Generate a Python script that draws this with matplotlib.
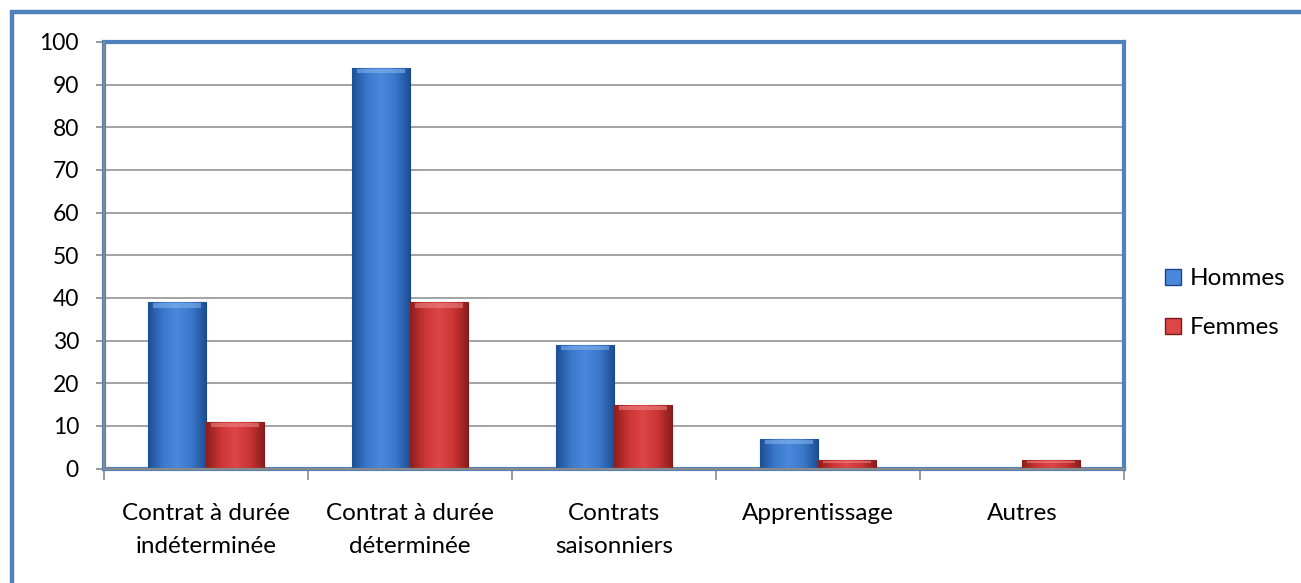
import matplotlib
matplotlib.use("Agg")
import matplotlib.pyplot as plt
from matplotlib.patches import Rectangle
from matplotlib.colors import LinearSegmentedColormap
import numpy as np

plt.rcParams['font.family'] = ['Lato', 'DejaVu Sans']

# data
categories = ["Contrat à durée\nindéterminée", "Contrat à durée\ndéterminée",
              "Contrats\nsaisonniers", "Apprentissage", "Autres"]
hommes = [39, 94, 29, 7, 0]
femmes = [11, 39, 15, 2, 2]
series_names = ["Hommes", "Femmes"]
yticks = list(range(0, 101, 10))

BORDER = "#4f81bd"
GRID = "#8a8a8a"
blue_map = LinearSegmentedColormap.from_list("b", ["#1d4f96", "#3a78cc", "#4a88dc", "#3a78cc", "#1d4f96"])
red_map = LinearSegmentedColormap.from_list("r", ["#8e1e1e", "#cc3535", "#dc4646", "#cc3535", "#8e1e1e"])

W, H = 1301, 583
fig = plt.figure(figsize=(W / 100, H / 100), dpi=100)
ax = fig.add_axes([104 / W, 1 - 468.5 / H, (1124 - 104) / W, (468.5 - 42) / H])

# outer frame of the chart (runs past right and bottom edges)
fig.patches.append(Rectangle((12 / W, -0.2), 1.2, 1.2 - 12 / H, transform=fig.transFigure,
                             fill=False, edgecolor=BORDER, linewidth=3.2, zorder=0))

x = np.arange(len(categories))
bw = 0.284
grad = np.linspace(0, 1, 64).reshape(1, -1)


def shaded_bars(xs, vals, cmap, top_col, edge):
    bars = ax.bar(xs, vals, bw, color=cmap(0.5), edgecolor=edge, linewidth=0.8, zorder=3)
    for b in bars:
        bx, by = b.get_x(), b.get_y()
        w, h = b.get_width(), b.get_height()
        if h <= 0:
            continue
        im = ax.imshow(grad, cmap=cmap, aspect="auto", extent=(bx, bx + w, by, by + h),
                       zorder=3.1, interpolation="bilinear")
        im.set_clip_path(b)
        # bevel highlight at the top
        cap = min(1.3, h * 0.35)
        ax.add_patch(Rectangle((bx + w * 0.08, by + h - cap), w * 0.84, cap * 0.8,
                               color=top_col, alpha=0.55, linewidth=0, zorder=3.2))
    return bars


bh = shaded_bars(x - bw / 2, hommes, blue_map, "#8ab8f0", "#1a4788")
bf = shaded_bars(x + bw / 2, femmes, red_map, "#f08a8a", "#7e1a1a")

ax.set_xlim(-0.5, len(categories) - 0.5)
ax.set_ylim(0, 100)
ax.set_yticks(yticks)
ax.yaxis.grid(True, color=GRID, linewidth=1.1, zorder=1)
ax.set_axisbelow(True)

ax.set_xticks(x)
ax.set_xticklabels(categories, fontsize=17.5, linespacing=1.7)
ax.set_xticks(np.arange(len(categories) + 1) - 0.5, minor=True)
ax.tick_params(axis="x", which="major", length=0, pad=25)
ax.tick_params(axis="x", which="minor", length=8, width=1.2, color=GRID, direction="out")
ax.tick_params(axis="y", length=6, width=1.2, color=GRID, pad=12, labelsize=16.5)

for s in ax.spines.values():
    s.set_color(BORDER)
    s.set_linewidth(3)
ax.axhline(0, color=GRID, linewidth=1.6, zorder=4, clip_on=False)
ax.axvline(-0.5, color=GRID, linewidth=1.4, zorder=4, clip_on=False)

# legend
handles = [Rectangle((0, 0), 1, 1, facecolor=blue_map(0.5), edgecolor="#1a4788"),
           Rectangle((0, 0), 1, 1, facecolor=red_map(0.5), edgecolor="#7e1a1a")]
fig.legend(handles, series_names, loc="upper left", bbox_to_anchor=(1146 / W, 1 - 249 / H),
           frameon=False, fontsize=17.5, handlelength=0.65, handleheight=0.65,
           handletextpad=0.35, labelspacing=1.15, borderpad=0.3)

fig.savefig("out.png", dpi=100)
